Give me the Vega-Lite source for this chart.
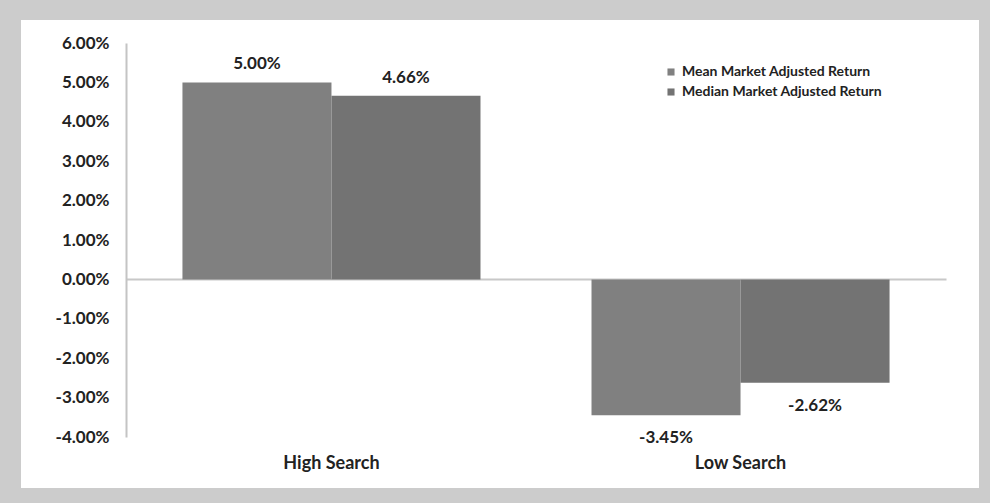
{
  "$schema": "https://vega.github.io/schema/vega-lite/v6.json",
  "width": 958,
  "height": 468,
  "autosize": "none",
  "padding": {"left": 21, "top": 20, "right": 11, "bottom": 15},
  "background": "#cccccc",
  "config": {
    "view": {"fill": "white", "stroke": null},
    "font": "Lato",
    "locale": {"number": {"decimal": ".", "thousands": ",", "grouping": [3], "currency": ["$", ""], "minus": "-"}}
  },
  "data": {
    "values": [
      {"group": "High Search", "series": "Mean Market Adjusted Return", "value": 0.05},
      {"group": "High Search", "series": "Median Market Adjusted Return", "value": 0.0466},
      {"group": "Low Search", "series": "Mean Market Adjusted Return", "value": -0.0345},
      {"group": "Low Search", "series": "Median Market Adjusted Return", "value": -0.0262}
    ]
  },
  "encoding": {
    "x": {
      "field": "group",
      "type": "nominal",
      "scale": {"domain": ["High Search", "Low Search"], "range": [105, 925], "paddingInner": 0.2714, "paddingOuter": 0.138},
      "axis": {"title": null, "orient": "bottom", "offset": -34, "domain": false, "ticks": false, "labelPadding": 0, "labelAngle": 0, "labelFont": "Lato", "labelFontWeight": "bold", "labelFontSize": 18, "labelColor": "#222222"}
    },
    "xOffset": {
      "field": "series",
      "type": "nominal",
      "scale": {"domain": ["Mean Market Adjusted Return", "Median Market Adjusted Return"], "paddingInner": 0, "paddingOuter": 0}
    },
    "y": {
      "field": "value",
      "type": "quantitative",
      "scale": {"domain": [-0.04, 0.06], "range": [417, 23], "nice": false, "zero": false},
      "axis": {
        "title": null,
        "format": ".2%",
        "values": [-0.04, -0.03, -0.02, -0.01, 0, 0.01, 0.02, 0.03, 0.04, 0.05, 0.06],
        "offset": -105,
        "domainColor": "#c4c4c4",
        "domainWidth": 2,
        "ticks": false,
        "labelPadding": 17,
        "labelFont": "Lato",
        "labelFontWeight": "bold",
        "labelFontSize": 17,
        "labelColor": "#222222",
        "grid": true,
        "gridColor": "#c8c8c8",
        "gridWidth": 2,
        "gridOpacity": {"condition": {"test": "datum.value === 0", "value": 1}, "value": 0}
      }
    }
  },
  "layer": [
    {
      "mark": {"type": "bar"},
      "encoding": {
        "color": {
          "field": "series",
          "type": "nominal",
          "scale": {"domain": ["Mean Market Adjusted Return", "Median Market Adjusted Return"], "range": ["#808080", "#737373"]},
          "legend": {
            "title": null,
            "orient": "none",
            "legendX": 643,
            "legendY": 45,
            "symbolType": "square",
            "symbolSize": 50,
            "symbolStrokeWidth": 0,
            "labelFont": "Lato",
            "labelFontSize": 14,
            "labelFontWeight": "bold",
            "labelColor": "#222222",
            "labelLimit": 400,
            "rowPadding": 6,
            "labelOffset": 4
          }
        }
      }
    },
    {
      "transform": [{"filter": "datum.value > 0"}],
      "mark": {"type": "text", "dy": -18, "baseline": "middle", "font": "Lato", "fontWeight": "bold", "fontSize": 17, "color": "#222222"},
      "encoding": {"text": {"field": "value", "type": "quantitative", "format": ".2%"}}
    },
    {
      "transform": [{"filter": "datum.value < 0"}],
      "mark": {"type": "text", "dy": 23, "baseline": "middle", "font": "Lato", "fontWeight": "bold", "fontSize": 17, "color": "#222222"},
      "encoding": {"text": {"field": "value", "type": "quantitative", "format": ".2%"}}
    }
  ]
}
